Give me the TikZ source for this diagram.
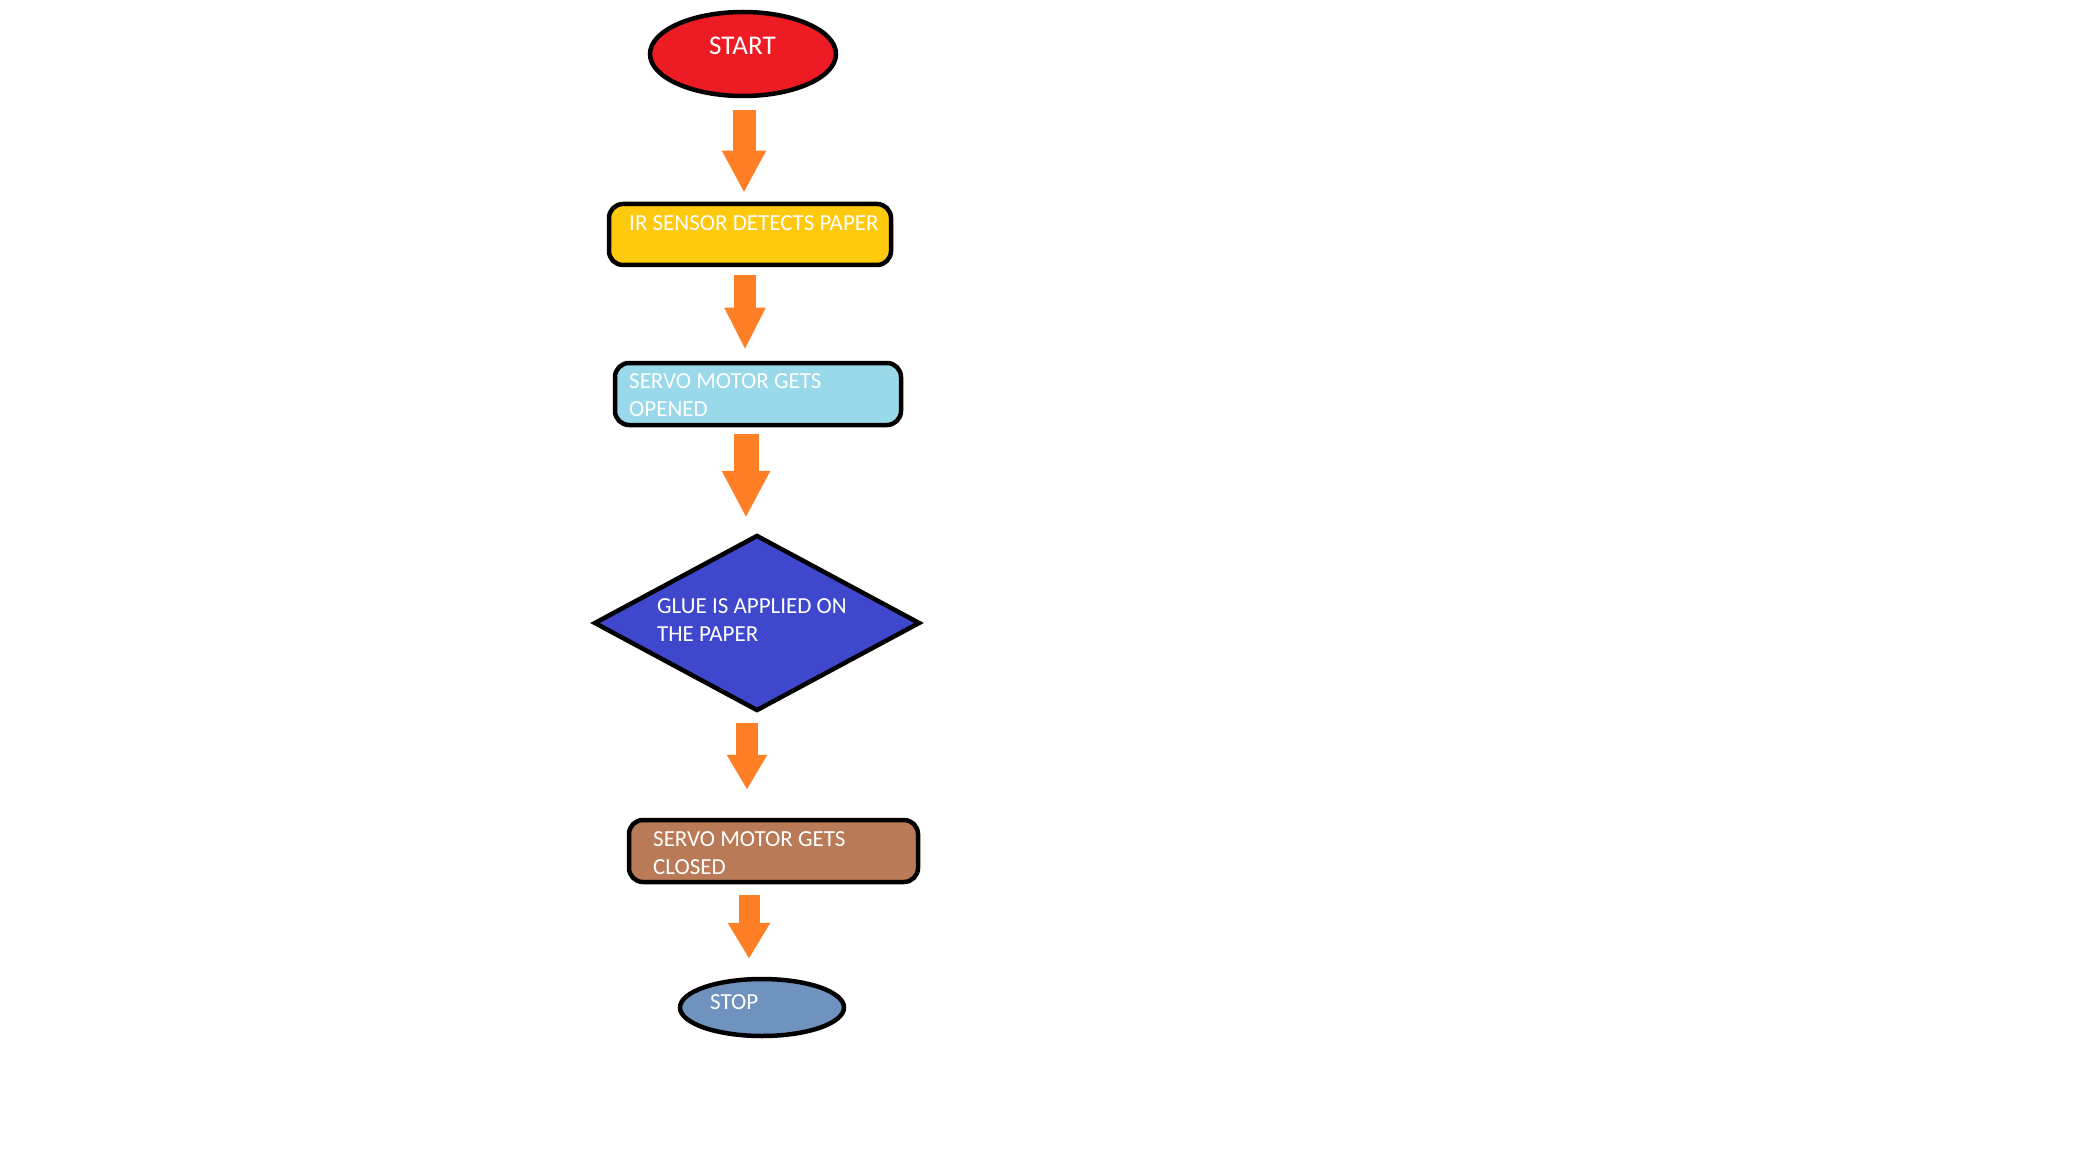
\documentclass[tikz,border=0pt]{standalone}
\usepackage{fontspec}
\setmainfont{Carlito}
\usetikzlibrary{shapes.geometric,arrows.meta}
\definecolor{cred}{HTML}{ED1C24}
\definecolor{cyellow}{HTML}{FFC90E}
\definecolor{clblue}{HTML}{99D9EA}
\definecolor{cindigo}{HTML}{3F48CC}
\definecolor{cbrown}{HTML}{B97A57}
\definecolor{cslate}{HTML}{7092BE}
\definecolor{corange}{HTML}{FF7F27}
\tikzset{
  shp/.style={draw=black, line width=4.5pt, inner sep=0pt},
  boxshape/.style={shp, rectangle, rounded corners=14pt},
  lbl/.style={anchor=base west, inner sep=0pt, text=white, font=\fontsize{23}{28}\selectfont, align=left},
  barrow/.style={draw=corange, line width=23pt, -{Triangle[width=41pt,length=42pt,fill=corange]}}
}
\begin{document}
\begin{tikzpicture}[x=1pt,y=-1pt]
\useasboundingbox (0,0) rectangle (2096,1158);
\fill[white] (0,0) rectangle (2096,1158);
% shapes
\node[shp, ellipse, fill=cred, minimum width=186pt, minimum height=84pt] (start) at (743,54) {};
\node[boxshape, fill=cyellow, minimum width=282pt, minimum height=61pt] (ir) at (750,234.5) {};
\node[boxshape, fill=clblue, minimum width=286pt, minimum height=62pt] (open) at (758,394) {};
\node[shp, diamond, fill=cindigo, minimum width=326pt, minimum height=176pt] (glue) at (757,623) {};
\node[boxshape, fill=cbrown, minimum width=289pt, minimum height=62pt] (close) at (773.5,851) {};
\node[shp, ellipse, fill=cslate, minimum width=164pt, minimum height=57pt] (stop) at (762,1007.5) {};
% texts (multi-line labels are placed by the baseline of their last line)
\node[lbl, font=\fontsize{27}{32}\selectfont] (tstart) at (709,55) {START};
\node[lbl] (tir) at (629,231) {IR SENSOR DETECTS PAPER};
\node[lbl] (topen) at (629,416) {SERVO MOTOR GETS\\OPENED};
\node[lbl] (tglue) at (657,641) {GLUE IS APPLIED ON\\THE PAPER};
\node[lbl] (tclose) at (653,874) {SERVO MOTOR GETS\\CLOSED};
\node[lbl] (tstop) at (710,1009) {STOP};
% arrow axes
\coordinate (x1) at (744,0);
\coordinate (x2) at (745,0);
\coordinate (x3) at (746,0);
\coordinate (x4) at (747,0);
\coordinate (x5) at (749,0);
% connectors
\draw[barrow, shorten <=12pt, shorten >=9pt] (start.south -| x1) -- (ir.north -| x1);
\draw[barrow, line width=22pt, -{Triangle[width=38pt,length=42pt,fill=corange]}, shorten <=8pt, shorten >=11pt] (ir.south -| x2) -- (open.north -| x2);
\draw[barrow, line width=25pt, -{Triangle[width=45pt,length=47pt,fill=corange]}, shorten <=7pt, shorten >=15pt] (open.south -| x3) -- (glue.north -| x3);
\draw[barrow, line width=22pt, -{Triangle[width=38pt,length=35pt,fill=corange]}, shorten <=10pt, shorten >=28pt] (glue.south -| x4) -- (close.north -| x4);
\draw[barrow, line width=21pt, -{Triangle[width=40pt,length=36pt,fill=corange]}, shorten <=11pt, shorten >=18pt] (close.south -| x5) -- (stop.north -| x5);
\end{tikzpicture}
\end{document}
